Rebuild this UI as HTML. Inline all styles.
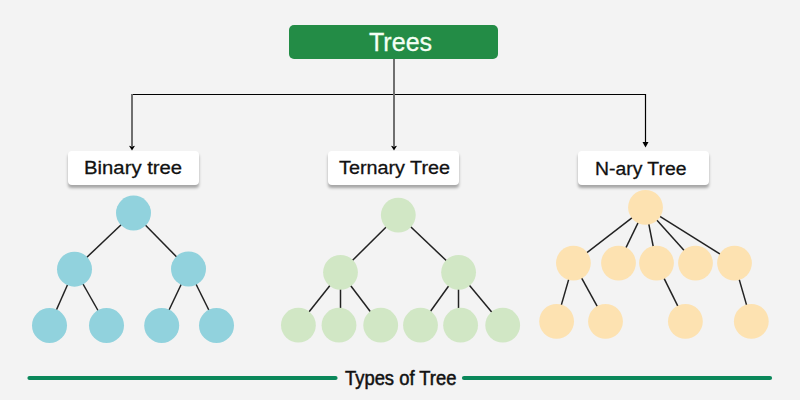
<!DOCTYPE html>
<html><head><meta charset="utf-8">
<style>
html,body{margin:0;padding:0;}
body{width:800px;height:400px;background:#f3f3f3;position:relative;overflow:hidden;font-family:"Liberation Sans",sans-serif;}
.abs{position:absolute;}
.top{left:289px;top:25px;width:209px;height:34px;background:#238c46;border-radius:5px;}
.lbl{top:151px;height:34px;background:#fff;border-radius:4px;box-shadow:0 3px 3px -0.5px rgba(0,0,0,0.32);}
.t{position:absolute;white-space:nowrap;transform-origin:0 0;}
svg{position:absolute;left:0;top:0;}
</style></head>
<body>
<svg width="800" height="400" viewBox="0 0 800 400">
  <!-- connectors -->
  <line x1="394" y1="59" x2="394" y2="94.5" stroke="#6f6f6f" stroke-width="2"/>
  <line x1="131.5" y1="94.5" x2="646" y2="94.5" stroke="#000" stroke-width="1.2"/>
  <line x1="132" y1="94" x2="132" y2="146" stroke="#6f6f6f" stroke-width="2"/>
  <line x1="394" y1="94" x2="394" y2="146" stroke="#6f6f6f" stroke-width="2"/>
  <line x1="645.5" y1="94" x2="645.5" y2="143" stroke="#000" stroke-width="1.2"/>
  <path d="M129 145.8 L132 146.6 L135 145.8 L132 150.6 Z" fill="#000"/>
  <path d="M391 145.8 L394 146.6 L397 145.8 L394 150.6 Z" fill="#000"/>
  <path d="M642.5 142 L648.5 142 L645.5 147.5 Z" fill="#000"/>
</svg>
<div class="abs top"></div>
<div class="abs lbl" style="left:68px;width:131px;"></div>
<div class="abs lbl" style="left:328px;width:131px;"></div>
<div class="abs lbl" style="left:578px;width:131px;"></div>
<svg width="800" height="400" viewBox="0 0 800 400">
  <g stroke="#222" stroke-width="1.5" fill="none">
    <!-- binary -->
    <line x1="133.5" y1="213" x2="74.5" y2="269"/>
    <line x1="133.5" y1="213" x2="188.5" y2="269"/>
    <line x1="74.5" y1="269" x2="49.5" y2="325.5"/>
    <line x1="74.5" y1="269" x2="106.5" y2="325.5"/>
    <line x1="188.5" y1="269" x2="161.7" y2="325.5"/>
    <line x1="188.5" y1="269" x2="216.5" y2="325.5"/>
    <!-- ternary -->
    <line x1="398.3" y1="215" x2="340.5" y2="272.3"/>
    <line x1="398.3" y1="215" x2="458.6" y2="272.3"/>
    <line x1="340.5" y1="272.3" x2="298.4" y2="325.2"/>
    <line x1="340.5" y1="272.3" x2="340.5" y2="325.2"/>
    <line x1="340.5" y1="272.3" x2="380.7" y2="325.2"/>
    <line x1="458.5" y1="272.3" x2="420.5" y2="325.2"/>
    <line x1="458.5" y1="272.3" x2="458.5" y2="325.2"/>
    <line x1="458.5" y1="272.3" x2="502.7" y2="325.2"/>
    <!-- nary -->
    <line x1="645.5" y1="207.4" x2="573.4" y2="263.1"/>
    <line x1="645.5" y1="207.4" x2="618.5" y2="263.1"/>
    <line x1="645.5" y1="207.4" x2="656.5" y2="263.1"/>
    <line x1="645.5" y1="207.4" x2="695.5" y2="263.1"/>
    <line x1="645.5" y1="207.4" x2="734.5" y2="263.1"/>
    <line x1="573.4" y1="263.1" x2="556.6" y2="321.4"/>
    <line x1="573.4" y1="263.1" x2="605.5" y2="321.4"/>
    <line x1="656.5" y1="263.1" x2="685.4" y2="321.4"/>
    <line x1="734.5" y1="263.1" x2="751.3" y2="321.4"/>
  </g>
  <g fill="#91d2dd">
    <circle cx="133.5" cy="213" r="17.5"/>
    <circle cx="74.5" cy="269.2" r="17.5"/>
    <circle cx="188.5" cy="269" r="17.5"/>
    <circle cx="49.5" cy="325.5" r="17.5"/>
    <circle cx="106.5" cy="325.5" r="17.5"/>
    <circle cx="161.7" cy="325.5" r="17.5"/>
    <circle cx="216.5" cy="325.5" r="17.5"/>
  </g>
  <g fill="#d1e7c5">
    <circle cx="398.3" cy="215.1" r="17.4"/>
    <circle cx="340.5" cy="272.3" r="17.4"/>
    <circle cx="458.6" cy="272.3" r="17.4"/>
    <circle cx="298.4" cy="325.2" r="17.4"/>
    <circle cx="339" cy="325.2" r="17.4"/>
    <circle cx="380.7" cy="325.2" r="17.4"/>
    <circle cx="420.5" cy="325.2" r="17.4"/>
    <circle cx="460.6" cy="325.2" r="17.4"/>
    <circle cx="502.7" cy="325.2" r="17.4"/>
  </g>
  <g fill="#fde2b1">
    <circle cx="645.5" cy="207.4" r="17.4"/>
    <circle cx="573.4" cy="263.1" r="17.4"/>
    <circle cx="618.5" cy="263.1" r="17.4"/>
    <circle cx="656.5" cy="263.1" r="17.4"/>
    <circle cx="695.5" cy="263.1" r="17.4"/>
    <circle cx="734.5" cy="263.1" r="17.4"/>
    <circle cx="556.6" cy="321.4" r="17.4"/>
    <circle cx="605.5" cy="321.4" r="17.4"/>
    <circle cx="685.4" cy="321.4" r="17.4"/>
    <circle cx="751.3" cy="321.4" r="17.4"/>
  </g>
  <!-- bottom bar -->
  <line x1="29.5" y1="378" x2="335.5" y2="378" stroke="#0a875a" stroke-width="4.2" stroke-linecap="round"/>
  <line x1="464" y1="378" x2="770" y2="378" stroke="#0a875a" stroke-width="4.2" stroke-linecap="round"/>
</svg>
<div class="t" id="t0" style="left:368.8px;top:26.5px;font-size:26.5px;color:#f4fff4;-webkit-text-stroke:0.3px #f4fff4;transform:scaleX(0.945);">Trees</div>
<div class="t" id="t1" style="left:84.44px;top:157.2px;font-size:19.2px;color:#111;-webkit-text-stroke:0.3px #111;transform:scaleX(1.058);">Binary tree</div>
<div class="t" id="t2" style="left:338.9px;top:157.2px;font-size:19.2px;color:#111;-webkit-text-stroke:0.3px #111;transform:scaleX(1.031);">Ternary Tree</div>
<div class="t" id="t3" style="left:595.49px;top:157.5px;font-size:19.2px;color:#111;-webkit-text-stroke:0.3px #111;transform:scaleX(1.009);">N-ary Tree</div>
<div class="t" id="t4" style="left:344.8px;top:366.5px;font-size:19.5px;-webkit-text-stroke:0.5px #111;color:#111;transform:scaleX(0.943);">Types of Tree</div>
</body></html>
